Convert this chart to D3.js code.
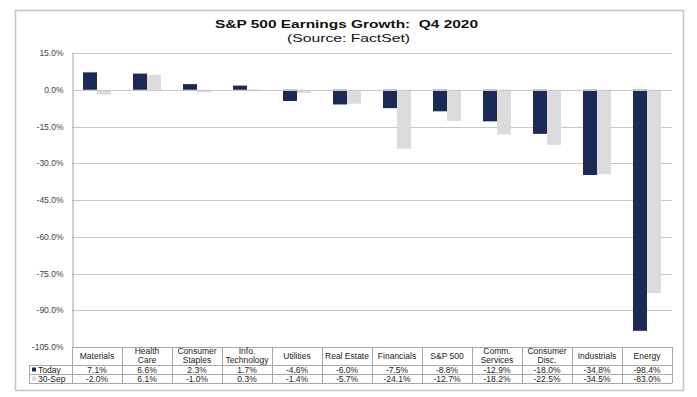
<!DOCTYPE html>
<html>
<head>
<meta charset="utf-8">
<script src="https://cdn.jsdelivr.net/npm/d3@7"></script>
<style>
  body { margin: 0; background: #fff; }
  svg { display: block; font-family: "Liberation Sans", Arial, sans-serif; }
</style>
</head>
<body>
<svg id="chart" width="697" height="397"></svg>
<script>
// S&P 500 earnings growth chart with data table underneath

const categories = [
  ['Materials'], ['Health', 'Care'], ['Consumer', 'Staples'], ['Info.', 'Technology'],
  ['Utilities'], ['Real Estate'], ['Financials'], ['S&P 500'],
  ['Comm.', 'Services'], ['Consumer', 'Disc.'], ['Industrials'], ['Energy']
];
const todayValues = [7.1, 6.6, 2.3, 1.7, -4.6, -6.0, -7.5, -8.8, -12.9, -18.0, -34.8, -98.4];
const sepValues = [-2.0, 6.1, -1.0, 0.3, -1.4, -5.7, -24.1, -12.7, -18.2, -22.5, -34.5, -83.0];
const seriesNames = ['Today', '30-Sep'];
const yTicks = [15, 0, -15, -30, -45, -60, -75, -90, -105];

const COLORS = ['#1b2a56', '#dcdcdc'];
const GRID = '#c8c8c8';

const svg = d3.select('#chart');

// outer frame
svg.append('rect')
  .attr('x', 15.5).attr('y', 10.5).attr('width', 668).attr('height', 380)
  .attr('fill', '#fff').attr('stroke', '#c4c4c4').attr('stroke-width', 1.5);

// titles (source image is a bit stretched sideways, so fix the widths)
svg.append('text')
  .attr('x', 346.5).attr('y', 28).attr('text-anchor', 'middle')
  .attr('font-size', 11.5).attr('font-weight', 'bold').attr('fill', '#111')
  .attr('textLength', 263).attr('lengthAdjust', 'spacingAndGlyphs')
  .attr('xml:space', 'preserve')
  .text('S&P 500 Earnings Growth:  Q4 2020');
svg.append('text')
  .attr('x', 348.5).attr('y', 42).attr('text-anchor', 'middle')
  .attr('font-size', 11.5).attr('fill', '#111')
  .attr('textLength', 123).attr('lengthAdjust', 'spacingAndGlyphs')
  .text('(Source: FactSet)');

const plotL = 72, plotR = 672, plotT = 53, plotB = 347;

const x = d3.scaleBand()
  .domain(d3.range(categories.length))
  .range([plotL, plotR]);

const xs = d3.scaleBand()
  .domain([0, 1])
  .range([11, x.bandwidth() - 11]);

const y = d3.scaleLinear()
  .domain([-105, 15])
  .range([plotB, plotT]);

// grid lines
svg.append('g')
  .selectAll('line')
  .data(yTicks)
  .join('line')
  .attr('x1', plotL).attr('x2', plotR)
  .attr('y1', d => Math.round(y(d)) + 0.5)
  .attr('y2', d => Math.round(y(d)) + 0.5)
  .attr('stroke', GRID).attr('stroke-width', 1);

// y axis
const yAxis = svg.append('g')
  .attr('transform', `translate(${plotL + 0.5},0)`)
  .call(d3.axisLeft(y).tickValues(yTicks).tickSize(0).tickPadding(9)
    .tickFormat(d => d.toFixed(1) + '%'));
yAxis.select('.domain').attr('stroke', '#a0a0a0');
yAxis.selectAll('text')
  .attr('font-size', 8.5).attr('fill', '#444')
  .attr('font-family', '"Liberation Sans", Arial, sans-serif');

// bars
const series = [todayValues, sepValues];
series.forEach((vals, si) => {
  svg.append('g')
    .selectAll('rect')
    .data(vals)
    .join('rect')
    .attr('x', (d, i) => x(i) + xs(si))
    .attr('width', xs.bandwidth())
    .attr('y', d => y(Math.max(0, d)))
    .attr('height', d => Math.abs(y(d) - y(0)))
    .attr('fill', COLORS[si]);
});

// zero line on top
svg.append('line')
  .attr('x1', plotL).attr('x2', plotR)
  .attr('y1', Math.round(y(0)) + 0.5).attr('y2', Math.round(y(0)) + 0.5)
  .attr('stroke', GRID);

// data table
const hdrTop = plotB, hdrBot = 365, rowH = 9;
const legLeft = 29;
const table = svg.append('g');
const tstroke = '#a8a8a8';

// horizontal lines
table.append('line').attr('x1', plotL).attr('x2', plotR)
  .attr('y1', hdrTop + 0.5).attr('y2', hdrTop + 0.5).attr('stroke', tstroke);
[0, 1, 2].forEach(r => {
  const yy = hdrBot + r * rowH + 0.5;
  table.append('line').attr('x1', legLeft).attr('x2', plotR)
    .attr('y1', yy).attr('y2', yy).attr('stroke', tstroke);
});
// vertical lines
d3.range(categories.length + 1).forEach(i => {
  const xx = Math.round(plotL + i * x.step()) + 0.5;
  table.append('line').attr('x1', xx).attr('x2', xx)
    .attr('y1', hdrTop).attr('y2', hdrBot + 2 * rowH).attr('stroke', tstroke);
});
table.append('line').attr('x1', legLeft + 0.5).attr('x2', legLeft + 0.5)
  .attr('y1', hdrBot).attr('y2', hdrBot + 2 * rowH).attr('stroke', tstroke);

// header text
categories.forEach((lines, i) => {
  const cx = x(i) + x.bandwidth() / 2;
  const t = table.append('text')
    .attr('text-anchor', 'middle').attr('font-size', 8.5).attr('fill', '#222');
  if (lines.length === 1) {
    t.append('tspan').attr('x', cx).attr('y', 359).text(lines[0]);
  } else {
    t.append('tspan').attr('x', cx).attr('y', 354).text(lines[0]);
    t.append('tspan').attr('x', cx).attr('y', 363).text(lines[1]);
  }
});

// value rows
series.forEach((vals, si) => {
  const yy = hdrBot + si * rowH + 7.5;
  table.append('g')
    .selectAll('text')
    .data(vals)
    .join('text')
    .attr('x', (d, i) => x(i) + x.bandwidth() / 2)
    .attr('y', yy)
    .attr('text-anchor', 'middle').attr('font-size', 8.5).attr('fill', '#222')
    .text(d => d.toFixed(1) + '%');
  table.append('rect')
    .attr('x', legLeft + 3).attr('y', yy - 5).attr('width', 4).attr('height', 4)
    .attr('fill', COLORS[si]);
  table.append('text')
    .attr('x', legLeft + 9).attr('y', yy)
    .attr('font-size', 8.5).attr('fill', '#222')
    .text(seriesNames[si]);
});
</script>
</body>
</html>
